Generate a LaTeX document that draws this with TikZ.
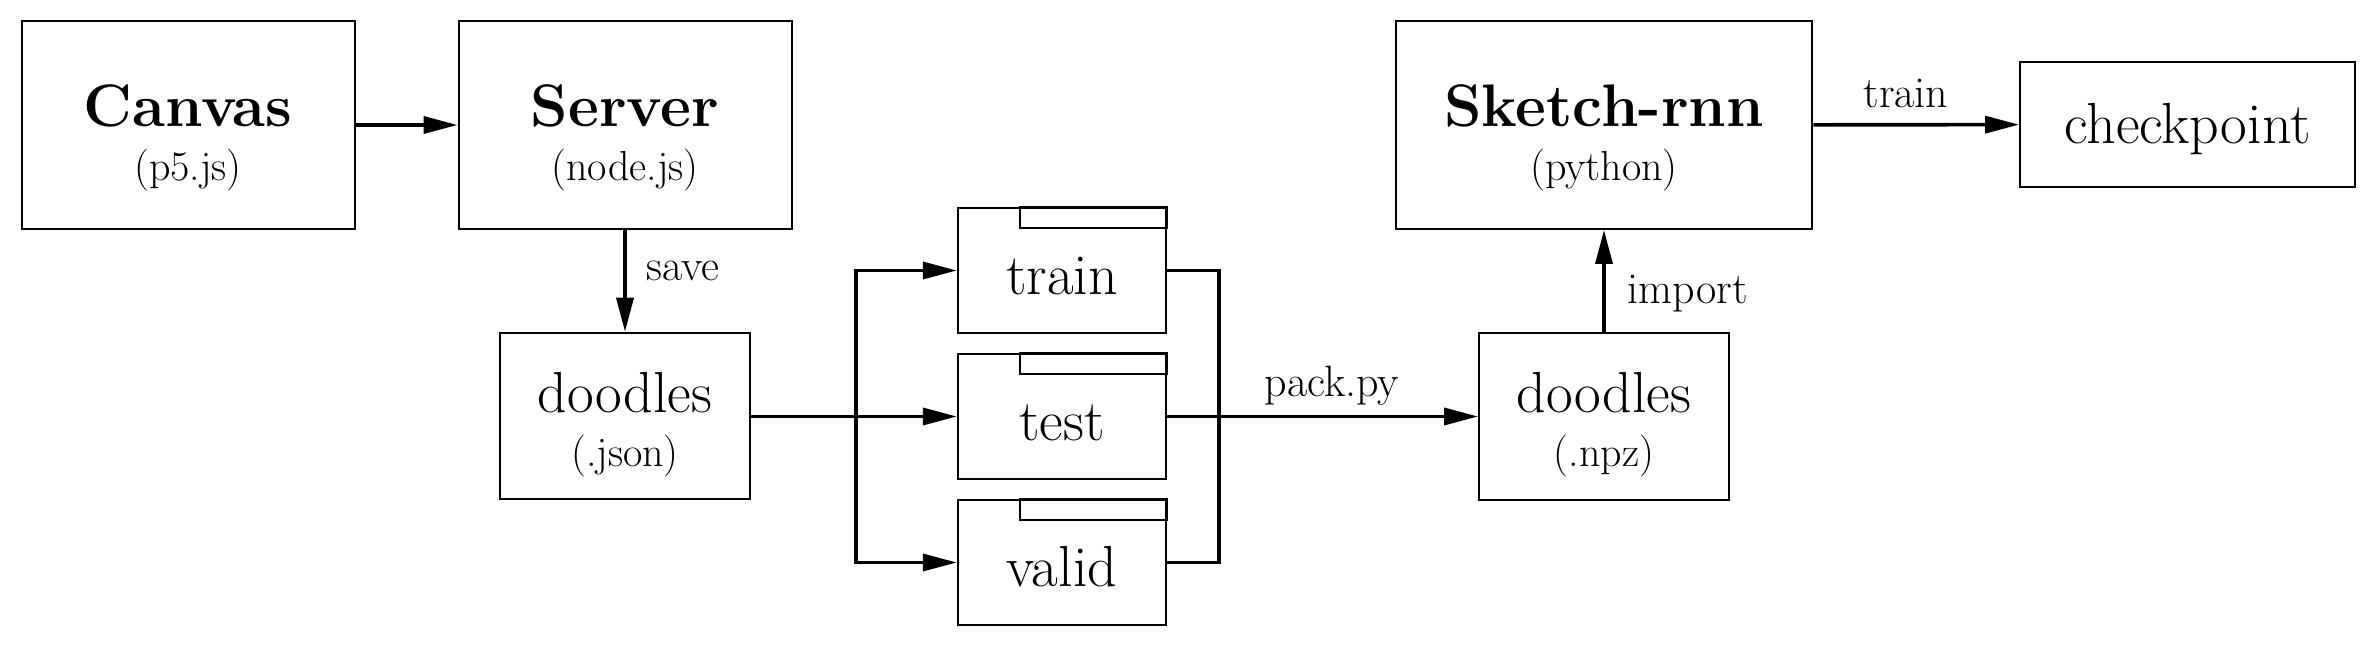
\documentclass[tikz,border=0pt]{standalone}
\usepackage{fontspec}
\usetikzlibrary{arrows.meta,calc}
\newcommand{\bigtitle}[1]{\rule{0pt}{33.5pt}{\fontsize{30}{27}\selectfont\bfseries #1}}
\newcommand{\filetitle}[1]{\rule{0pt}{28.5pt}{\fontsize{29}{27}\selectfont #1}}
\begin{document}
\begin{tikzpicture}[x=0.5pt,y=-0.5pt]
    \tikzstyle{box}=[draw, line width=1pt, inner sep=0pt, align=center, font=\fontsize{21}{27}\selectfont]
    \tikzstyle{bigbox}=[box, minimum width=166.5pt, minimum height=104pt]
    \tikzstyle{filebox}=[box, minimum width=125pt, minimum height=83.25pt]
    \tikzstyle{setbox}=[box, minimum width=104.25pt, minimum height=62.8pt, font=\fontsize{29}{29}\selectfont, text height=24pt, text depth=0pt]
    \tikzstyle{flow}=[line width=1.8pt, -{Triangle[length=17pt,width=8.5pt]}]
    \tikzstyle{lbl}=[inner sep=0pt, font=\fontsize{22}{22}\selectfont]
    \useasboundingbox (0,0) rectangle (2376,646);
    % web side
    \node[bigbox] (canvas) at (188,125) {\bigtitle{Canvas}\\(p5.js)};
    \node[bigbox] (server) at (625,125) {\bigtitle{Server}\\(node.js)};
    \node[filebox] (json) at (625,416) {\filetitle{doodles}\\(.json)};
    % data sets
    \node[setbox] (train) at (1062,270.5) {train};
    \node[setbox] (test) at (1062,416.5) {test};
    \node[setbox] (valid) at (1062,562.5) {valid};
    \foreach \f in {train,test,valid}
        \draw[line width=1pt] ($(\f.north west)!0.3!(\f.north east)$) rectangle ([yshift=-10.8pt]\f.north east);
    % model side
    \node[filebox] (npz) at (1604,416.5) {\filetitle{doodles}\\(.npz)};
    \node[bigbox, minimum width=208.3pt] (sketch) at (1604,125) {\bigtitle{Sketch-rnn}\\(python)};
    \node[box, minimum width=167.5pt, minimum height=62.8pt, font=\fontsize{29}{29}\selectfont, text height=19pt, text depth=0pt] (ckpt) at (2187.5,124.5) {checkpoint};
    \coordinate (split) at (856,416.5);
    \coordinate (merge) at (1219,416.5);
    \draw[flow] (canvas) -- (server);
    \draw[flow] (server) -- node[lbl, right=10pt, pos=0.4]{save} (json);
    \draw[flow] (json.east |- test) -- (test);
    \draw[flow] (split) |- (train);
    \draw[flow] (split) |- (valid);
    \draw[line width=1.8pt] (train) -| (merge);
    \draw[line width=1.8pt] (valid) -| (merge);
    \draw[flow] (test) -- node[lbl, above=4.75pt, pos=0.53]{pack.py} (npz);
    \draw[flow] (npz) -- node[lbl, right=11pt, pos=0.38]{import} (sketch);
    \draw[flow] (sketch) -- node[lbl, above=7.5pt, pos=0.45]{train} (ckpt);
\end{tikzpicture}
\end{document}
